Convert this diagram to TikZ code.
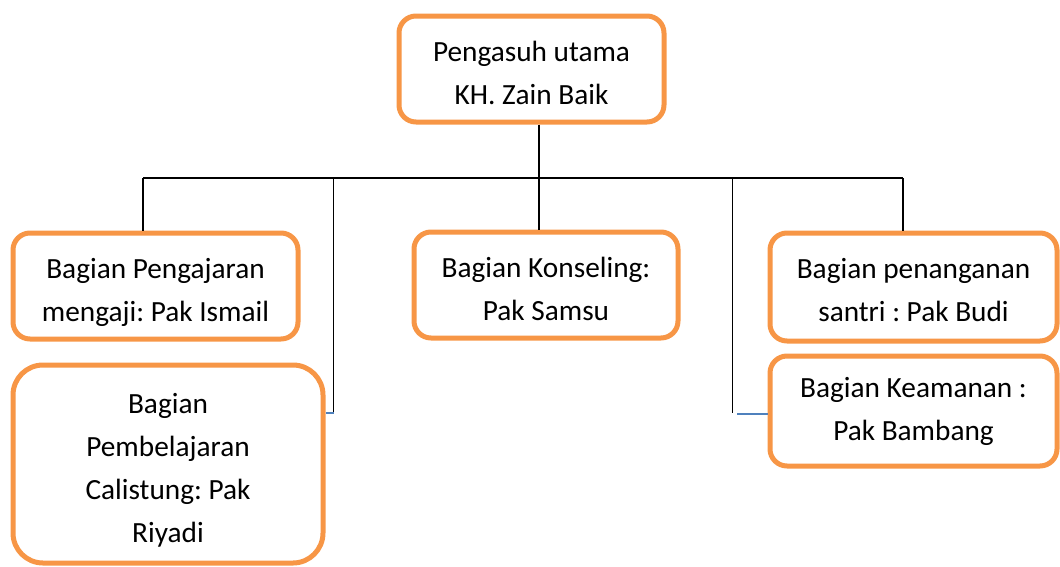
\documentclass[tikz,border=0pt]{standalone}
\usepackage{fontspec}
\setmainfont{Carlito}
\definecolor{boxorange}{HTML}{F79646}
\definecolor{linkblue}{HTML}{4F81BD}
\newcommand\txtlift[1]{\rule{0pt}{#1pt}}
\begin{document}
\frenchspacing
\begin{tikzpicture}[x=1pt,y=-1pt,
  orgbox/.style={draw=boxorange, line width=5pt, rounded corners=17pt, fill=white,
    align=center, font=\fontsize{29.3}{43}\selectfont\frenchspacing, inner sep=0pt},
  link/.style={line width=1.3pt, draw=black},
  bluelink/.style={line width=1.3pt, draw=linkblue}]
\useasboundingbox (0,0) rectangle (1060,566);

\node[orgbox, minimum width=265pt, minimum height=106pt] (top) at (531.5,69) {\txtlift{28.5}Pengasuh utama\\KH. Zain Baik};
\node[orgbox, minimum width=285pt, minimum height=106pt] (peng) at (155.5,286) {\txtlift{32.5}Bagian Pengajaran\\mengaji: Pak Ismail};
\node[orgbox, minimum width=264pt, minimum height=106pt] (kons) at (546,285) {\txtlift{27.5}Bagian Konseling:\\Pak Samsu};
\node[orgbox, minimum width=287pt, minimum height=108pt] (pen) at (913.5,287) {\txtlift{26.5}Bagian penanganan\\santri : Pak Budi};
\node[orgbox, minimum width=287pt, minimum height=110pt] (keam) at (913.5,411) {\txtlift{22}Bagian Keamanan :\\Pak Bambang};
\node[orgbox, rounded corners=30pt, minimum width=310pt, minimum height=198pt] (cal) at (168,464) {\txtlift{33}Bagian\\Pembelajaran\\Calistung: Pak\\Riyadi};

\coordinate (hl) at (143,178);
\coordinate (hr) at (903,178);
\coordinate (jc) at (539,178);
\coordinate (jl) at (333.5,178);
\coordinate (jr) at (732.5,178);
\coordinate (lb) at (333.5,413);
\coordinate (rb) at (732.5,413);
\coordinate (rbs) at (737,414);

\draw[link] (hl) -- (hr);
\draw[link] (top.south -| jc) -- (kons.north -| jc);
\draw[link] (hl) -- (peng.north -| hl);
\draw[link] (hr) -- (pen.north -| hr);
\draw[link] (jl) -- (lb);
\draw[bluelink] (lb) -- (cal.east |- lb);
\draw[link] (jr) -- (rb);
\draw[bluelink] (rbs) -- (keam.west |- rbs);
\end{tikzpicture}
\end{document}
